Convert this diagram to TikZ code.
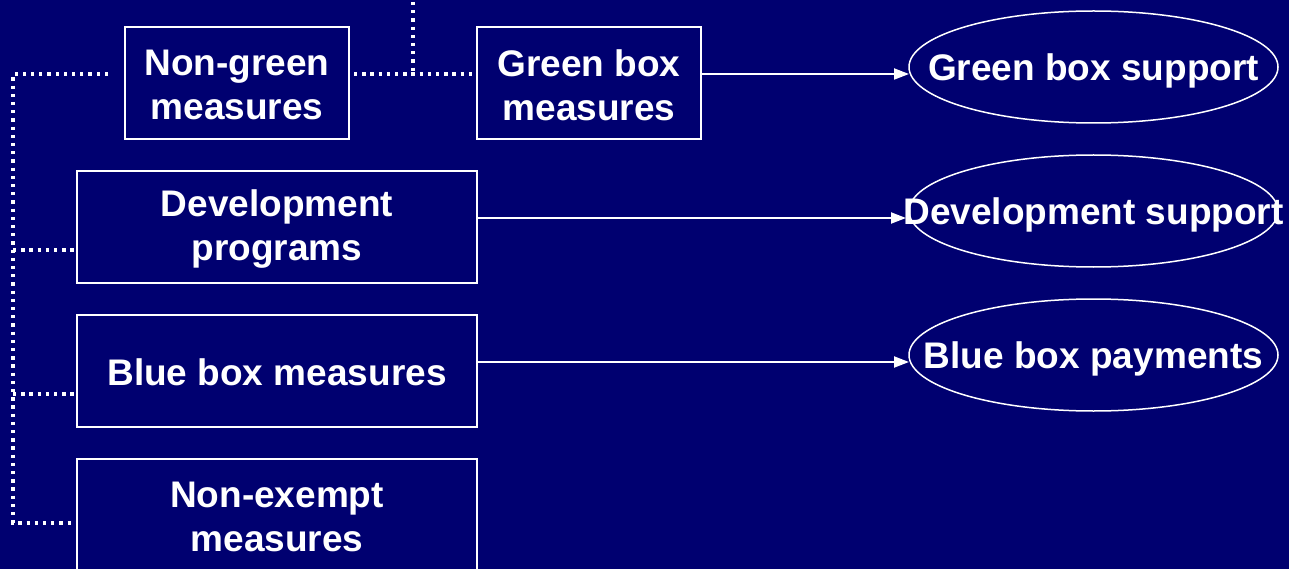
\documentclass[tikz,border=0pt]{standalone}
\usepackage{fontspec}
\setmainfont{Liberation Sans}
\usetikzlibrary{shapes.geometric,arrows.meta}
\definecolor{navybg}{RGB}{0,0,112}
\begin{document}
\begin{tikzpicture}[x=1pt,y=-1pt,
  lbl/.style={text=white,font=\bfseries\fontsize{37}{44}\selectfont,align=center,inner sep=0pt},
  boxnode/.style={draw=white,line width=2pt,minimum height=112pt,inner sep=0pt},
  ovalnode/.style={ellipse,draw=white,line width=1.5pt,minimum width=369pt,minimum height=112pt,inner sep=0pt},
  dotline/.style={white,line width=3.3pt,dash pattern=on 3.3pt off 4.9pt},
  arrowline/.style={white,line width=2pt,-{Triangle[length=15pt,width=11pt]}}]
\fill[navybg] (0,0) rectangle (1289,569);
\useasboundingbox (0,0) rectangle (1289,569);
% boxes
\node[boxnode,minimum width=224pt] (ng) at (237,83) {};
\node[boxnode,minimum width=224pt] (gbm) at (589,83) {};
\node[boxnode,minimum width=400pt] (dp) at (277,227) {};
\node[boxnode,minimum width=400pt] (bbm) at (277,371) {};
\node[boxnode,minimum width=400pt] (ne) at (277,515) {};
\node[lbl,yshift=-2pt] (ngt) at (ng.center) {Non-green\\measures};
\node[lbl,yshift=-2pt] (gbmt) at (gbm.center) {Green box\\measures};
\node[lbl,yshift=-2pt] (dpt) at (dp.center) {Development\\programs};
\node[lbl,yshift=-1pt] (bbmt) at (bbm.center) {Blue box measures};
\node[lbl,yshift=-2pt] (net) at (ne.center) {Non-exempt\\measures};
% ellipses
\node[ovalnode] (gbs) at (1093.5,67) {};
\node[ovalnode] (ds) at (1093.5,211) {};
\node[ovalnode] (bbp) at (1093.5,355) {};
\node[lbl,yshift=-4pt] (gbst) at (gbs.center) {Green box support};
\node[lbl,yshift=-4pt] (dst) at (ds.center) {Development support};
\node[lbl,yshift=-4pt] (bbpt) at (bbp.center) {Blue box payments};
% dotted connectors
\coordinate (top) at (413,2);
\coordinate (leftend) at (108,74);
\coordinate (corner) at (13,74);
\draw[dotline] (top) -- (top |- 0,74);
\draw[dotline] (ng.east |- 0,74) ++(4,0) -- (gbm.west |- 0,74);
\draw[dotline] (leftend) -- (corner) -- (corner |- 0,523) -- (ne.west |- 0,523);
\draw[dotline] (corner |- 0,250) -- (dp.west |- 0,250);
\draw[dotline] (corner |- 0,394) -- (bbm.west |- 0,394);
% arrows
\draw[arrowline] (gbm.east |- 0,74) -- (909,74);
\draw[arrowline] (dp.east |- 0,218) -- (906,218);
\draw[arrowline] (bbm.east |- 0,362) -- (909,362);
\end{tikzpicture}
\end{document}
